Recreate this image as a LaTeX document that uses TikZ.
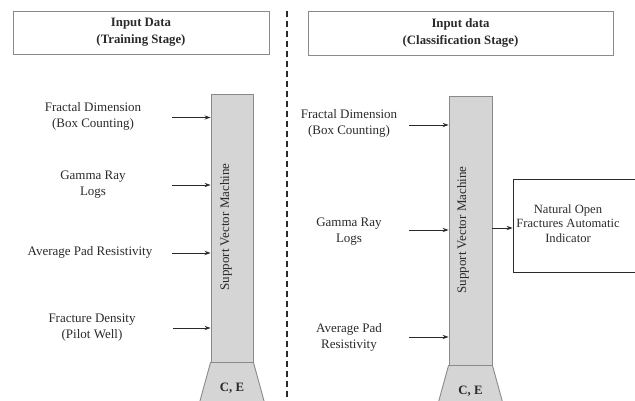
\documentclass[tikz,border=0pt]{standalone}
\usepackage{fontspec}
\setmainfont{Liberation Serif}
\usetikzlibrary{arrows.meta,calc}
\definecolor{ink}{HTML}{2A2A2A}
\definecolor{edge}{HTML}{8A8A8A}
\definecolor{barfill}{HTML}{D5D5D5}
\tikzset{
  lbl/.style={align=center, text=ink, font=\fontsize{13}{16}\selectfont, inner sep=0pt},
  head/.style={draw=edge, line width=0.8pt, align=center, text=ink,
    font=\bfseries\fontsize{12.8}{17}\selectfont, inner sep=0pt},
  bar/.style={draw=edge, fill=barfill, line width=0.9pt, inner sep=0pt},
  feed/.style={-{Stealth[length=6pt,width=4.2pt]}, draw=ink, line width=0.7pt},
  sep/.style={dash pattern=on 6pt off 4pt, draw=ink, line width=1.2pt},
}
\begin{document}
\begin{tikzpicture}[x=1pt,y=-1pt]
\useasboundingbox (0,0) rectangle (635,401);
\clip (0,0) rectangle (635,401);

% stage headers
\node[head, minimum width=256pt, minimum height=43pt] (hL) at (141,32.5)
  {Input Data\\(Training Stage)};
\node[head, minimum width=305pt, minimum height=44pt] (hR) at (460.5,33)
  {Input data\\(Classification Stage)};

% separator between the two stages
\coordinate (sepTop) at (287,11);
\coordinate (sepBot) at (287,402);
\draw[sep] (sepTop) -- (sepBot);

% ---------- training stage ----------
\node[bar, minimum width=42pt, minimum height=268pt] (svmL) at (232,228) {};
\node[lbl, rotate=90] (svmLtxt) at (226,227) {Support Vector Machine};
\draw[bar] (svmL.south west) -- (svmL.south east) -- ++(11,40) -- ($(svmL.south west)+(-11,40)$) -- cycle;
\node[lbl, font=\bfseries\fontsize{12.8}{16}\selectfont] (ceL) at (232,388) {C, E};

\node[lbl] (fdL) at (93,116) {Fractal Dimension\\(Box Counting)};
\node[lbl] (grL) at (93,185) {Gamma Ray\\Logs};
\node[lbl] (apL) at (90,252) {Average Pad Resistivity};
\node[lbl] (fxL) at (92,328) {Fracture Density\\(Pilot Well)};

\coordinate (a1) at (172,117.5);
\coordinate (a2) at (172,185);
\coordinate (a3) at (172,253);
\coordinate (a4) at (173,328);
\foreach \c in {a1,a2,a3,a4}
  \draw[feed] (\c) -- (\c -| svmL.west);

% ---------- classification stage ----------
\node[bar, minimum width=43pt, minimum height=269pt] (svmR) at (470.5,230.5) {};
\node[lbl, rotate=90] (svmRtxt) at (463,230) {Support Vector Machine};
\draw[bar] (svmR.south west) -- (svmR.south east) -- ++(11,40) -- ($(svmR.south west)+(-11,40)$) -- cycle;
\node[lbl, font=\bfseries\fontsize{12.8}{16}\selectfont] (ceR) at (470.5,391) {C, E};

\node[lbl] (fdR) at (349,123) {Fractal Dimension\\(Box Counting)};
\node[lbl] (grR) at (349,232) {Gamma Ray\\Logs};
\node[lbl] (apR) at (349,337) {Average Pad\\Resistivity};

\coordinate (b1) at (409,125);
\coordinate (b2) at (409,230);
\coordinate (b3) at (409,337);
\foreach \c in {b1,b2,b3}
  \draw[feed] (\c) -- (\c -| svmR.west);

% result box
\node[draw=ink, line width=0.8pt, minimum width=130pt, minimum height=93pt,
      inner sep=0pt] (out) at (578,225.5) {};
\node[lbl, font=\fontsize{12.6}{14.8}\selectfont] (outtxt) at (568,223.5)
  {Natural Open\\Fractures Automatic\\Indicator};
\coordinate (outIn) at (out.west |- 0,228);
\draw[feed] (svmR.east |- outIn) -- (outIn);
\end{tikzpicture}
\end{document}
